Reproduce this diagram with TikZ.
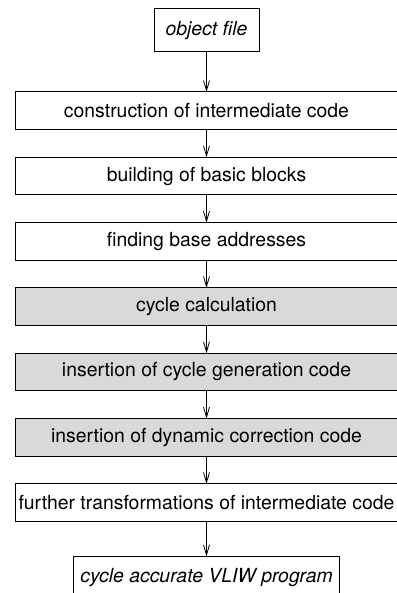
\documentclass[tikz,border=0pt]{standalone}
\usepackage{fontspec}
\setmainfont{TeX Gyre Heros}
\usepackage{tikz}
\usetikzlibrary{positioning}
\usetikzlibrary{arrows.meta}
\tikzset{>={Straight Barb[width=3pt,length=5pt]}}

\begin{document}
\begin{tikzpicture}[x=1pt, y=1pt, node distance=13.9pt, stage/.style={rectangle, draw=black, fill=white, line width=0.5pt, minimum width=191.2pt, minimum height=18.75pt, inner sep=0pt, outer sep=0pt, font=\fontsize{9.7}{11}\selectfont}, graystage/.style={stage, fill=black!15}, endstage/.style={stage, minimum height=21.5pt, font=\fontsize{9.7}{11}\selectfont\itshape}]

    \useasboundingbox (0,0) rectangle (198,-296.5);

    %Nodes
    \node[endstage, minimum width=52.5pt](objfile) at (103.25,-15.25){object file};
    \node[stage](construct)[below=20pt of objfile]{construction of intermediate code};
    \node[stage](blocks)[below=of construct]{building of basic blocks};
    \node[stage](base)[below=of blocks]{finding base addresses};
    \node[graystage](cycle)[below=of base]{cycle calculation};
    \node[graystage](gencode)[below=of cycle]{insertion of cycle generation code};
    \node[graystage](dyncode)[below=of gencode]{insertion of dynamic correction code};
    \node[stage](further)[below=of dyncode]{further transformations of intermediate code};
    \node[endstage, minimum width=133pt](vliw)[below=17.5pt of further]{cycle accurate VLIW program};

    %Lines
    \draw[->] (objfile.south) -- (construct.north);
    \draw[->] (construct.south) -- (blocks.north);
    \draw[->] (blocks.south) -- (base.north);
    \draw[->] (base.south) -- (cycle.north);
    \draw[->] (cycle.south) -- (gencode.north);
    \draw[->] (gencode.south) -- (dyncode.north);
    \draw[->] (dyncode.south) -- (further.north);
    \draw[->] (further.south) -- (vliw.north);

\end{tikzpicture}
\end{document}
